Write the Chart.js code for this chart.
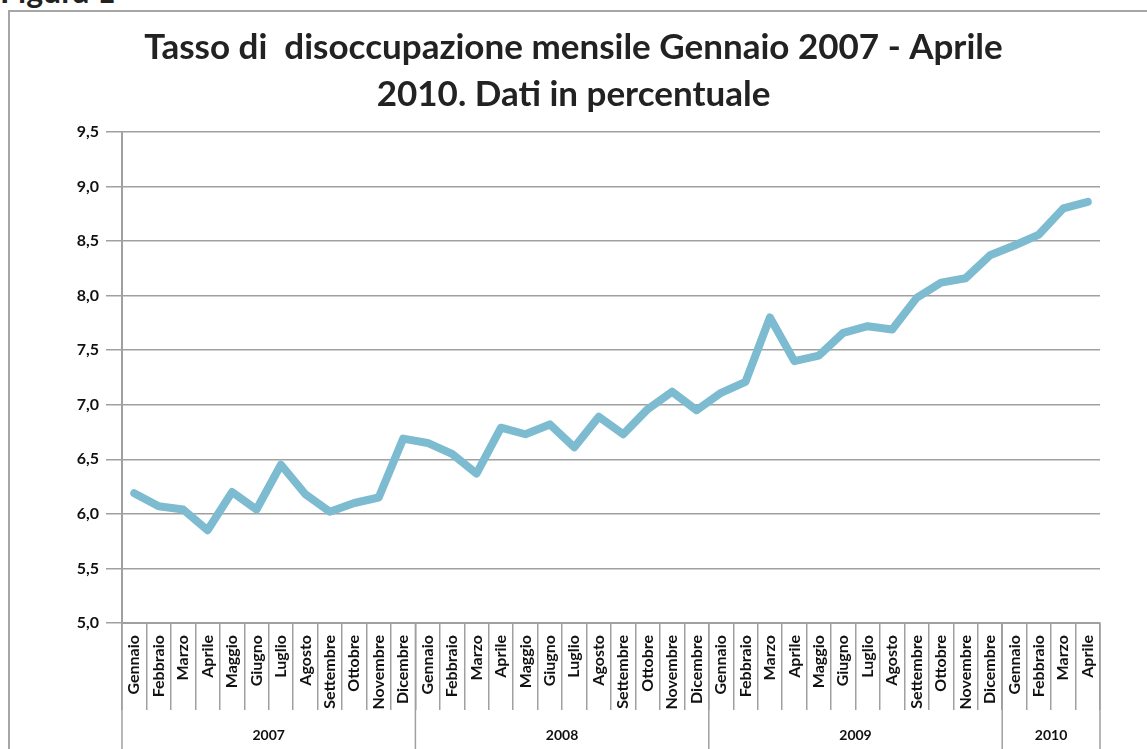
<!DOCTYPE html>
<html>
<head>
<meta charset="utf-8">
<script src="https://cdn.jsdelivr.net/npm/chart.js@4.4.1/dist/chart.umd.min.js"></script>
<style>
  html, body { margin: 0; padding: 0; background: #fff; overflow: hidden; }
  #wrap { position: relative; width: 1147px; height: 749px; }
  #figura { position: absolute; left: 0; top: -25px; font: bold 32px Lato, sans-serif; color: #222; line-height: 32px; }
  #box { position: absolute; left: 8px; top: 10px; width: 1200px; height: 800px; border-top: 2px solid #a6a6a6; border-left: 2px solid #a6a6a6; }
  canvas { position: absolute; left: 0; top: 0; }
</style>
</head>
<body>
<div id="wrap">
  <div id="figura">Figura 1</div>
  <div id="box"></div>
  <canvas id="chart" width="1147" height="749"></canvas>
</div>
<script>
const months = ['Gennaio', 'Febbraio', 'Marzo', 'Aprile', 'Maggio', 'Giugno', 'Luglio', 'Agosto', 'Settembre', 'Ottobre', 'Novembre', 'Dicembre'];
const years = ['2007', '2008', '2009', '2010'];
const monthsPerYear = [12, 12, 12, 4];

// tasso di disoccupazione, gen 2007 - apr 2010
const rate2007 = [6.19, 6.07, 6.04, 5.85, 6.20, 6.04, 6.45, 6.18, 6.02, 6.10, 6.15, 6.69];
const rate2008 = [6.65, 6.55, 6.37, 6.79, 6.73, 6.82, 6.61, 6.89, 6.73, 6.96, 7.12, 6.95];
const rate2009 = [7.11, 7.21, 7.80, 7.40, 7.45, 7.66, 7.72, 7.69, 7.98, 8.12, 8.16, 8.37];
const rate2010 = [8.46, 8.56, 8.80, 8.86];

const labels = [];
monthsPerYear.forEach(n => { for (let i = 0; i < n; i++) labels.push(months[i]); });
const values = [].concat(rate2007, rate2008, rate2009, rate2010);

const gridColor = '#a0a0a0';
const font = 'Lato, sans-serif';

// year row under the month labels
const yearRow = {
  id: 'yearRow',
  afterDraw(chart) {
    const ctx = chart.ctx;
    const x = chart.scales.x;
    const half = (x.getPixelForValue(1) - x.getPixelForValue(0)) / 2;
    const top = chart.chartArea.bottom;
    const bottom = chart.height;
    let start = 0;
    ctx.save();
    ctx.strokeStyle = gridColor;
    ctx.lineWidth = 1.5;
    ctx.fillStyle = '#111';
    ctx.font = 'bold 14px ' + font;
    ctx.textAlign = 'center';
    ctx.textBaseline = 'middle';
    years.forEach((y, i) => {
      const end = start + monthsPerYear[i] - 1;
      const left = x.getPixelForValue(start) - half;
      const right = x.getPixelForValue(end) + half;
      ctx.beginPath();
      ctx.moveTo(left, top);
      ctx.lineTo(left, bottom);
      if (i === years.length - 1) {
        ctx.moveTo(right, top);
        ctx.lineTo(right, bottom);
      }
      ctx.stroke();
      ctx.fillText(y, (left + right) / 2, bottom - 14);
      start = end + 1;
    });
    ctx.restore();
  }
};

new Chart(document.getElementById('chart'), {
  type: 'line',
  data: {
    labels: labels,
    datasets: [{
      data: values,
      borderColor: '#7dbbd1',
      borderWidth: 8,
      borderCapStyle: 'round',
      borderJoinStyle: 'round',
      pointRadius: 0,
      tension: 0,
      fill: false
    }]
  },
  options: {
    responsive: false,
    animation: false,
    layout: { padding: { left: 47, right: 47, top: 0, bottom: 0 } },
    plugins: {
      legend: { display: false },
      tooltip: { enabled: false },
      title: {
        display: true,
        text: ['Tasso di  disoccupazione mensile Gennaio 2007 - Aprile', '2010. Dati in percentuale'],
        color: '#222',
        font: { family: font, size: 35, weight: 'bold', lineHeight: 1.343 },
        padding: { top: 24, bottom: 14 }
      }
    },
    scales: {
      x: {
        offset: true,
        grid: { drawOnChartArea: false, offset: true, tickLength: 87, color: gridColor, lineWidth: 1.5 },
        border: { color: gridColor, width: 2 },
        ticks: {
          autoSkip: false,
          minRotation: 90,
          maxRotation: 90,
          padding: -75,
          color: '#111',
          font: { family: font, size: 16, weight: 'bold' }
        },
        afterFit(scale) { scale.height = 126; }
      },
      y: {
        min: 5,
        max: 9.5,
        grid: { color: gridColor, lineWidth: 1.5, tickLength: 16 },
        border: { color: gridColor, width: 2 },
        ticks: {
          stepSize: 0.5,
          padding: 7,
          color: '#111',
          font: { family: font, size: 16, weight: 'bold' },
          callback: v => v.toFixed(1).replace('.', ',')
        },
        afterFit(scale) { scale.width = 75; }
      }
    }
  },
  plugins: [yearRow]
});
</script>
</body>
</html>
